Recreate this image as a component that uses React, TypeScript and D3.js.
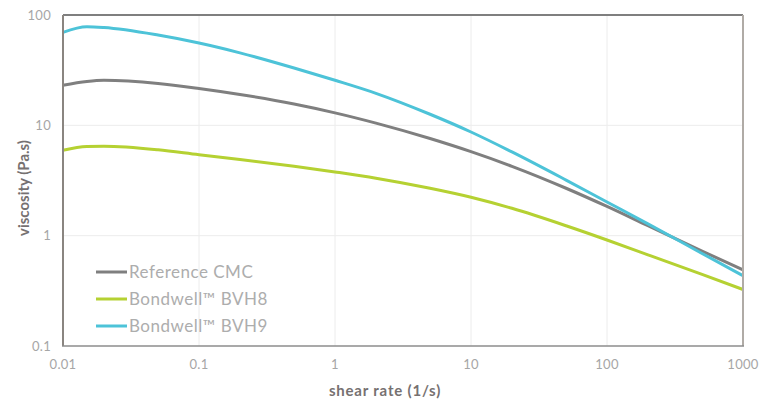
import { useEffect, useRef } from "react";
import * as d3 from "d3";

const shearRates = [0.01, 0.015, 0.02, 0.05, 0.1, 0.2, 0.5, 1, 2, 5, 10, 20, 50, 100, 200, 500, 1000];
const referenceCMC = [23.1, 25, 25.6, 24.0, 21.6, 19.05, 15.6, 12.97, 10.47, 7.59, 5.77, 4.25, 2.69, 1.84, 1.23, 0.725, 0.49];
const bvh8 = [5.94, 6.43, 6.46, 6.0, 5.41, 4.91, 4.26, 3.78, 3.32, 2.69, 2.23, 1.77, 1.23, 0.914, 0.671, 0.445, 0.325];
const bvh9 = [69.7, 78.3, 77, 65.8, 55.7, 45.4, 33.1, 25.6, 19.5, 12.6, 8.7, 5.74, 3.19, 2.02, 1.28, 0.69, 0.434];

const seriesNames = ["Reference CMC", "Bondwell™ BVH8", "Bondwell™ BVH9"];
const seriesColors = ["#7f7f7f", "#b5d132", "#4dc3d8"];
const xTicks = [0.01, 0.1, 1, 10, 100, 1000];
const yTicks = [0.1, 1, 10, 100];

export default function App() {
  const ref = useRef<SVGSVGElement | null>(null);

  useEffect(() => {
    if (!ref.current) return;
    const svg = d3.select(ref.current);
    svg.selectAll("*").remove();

    const width = 760;
    const height = 401;
    const margin = { top: 15, right: 17, bottom: 55, left: 63 };
    const font = "'Lato', 'Open Sans', sans-serif";

    svg.attr("width", width).attr("height", height);

    const x = d3.scaleLog()
      .domain([0.01, 1000])
      .range([margin.left, width - margin.right]);
    const y = d3.scaleLog()
      .domain([0.1, 100])
      .range([height - margin.bottom, margin.top]);

    const x0 = margin.left, x1 = width - margin.right;
    const y0 = margin.top, y1 = height - margin.bottom;

    // Grid
    const grid = svg.append("g");
    grid.selectAll("line.gx")
      .data(xTicks.slice(1, -1))
      .enter()
      .append("line")
      .attr("x1", d => x(d)).attr("x2", d => x(d))
      .attr("y1", y0).attr("y2", y1)
      .attr("stroke", "#ececec").attr("stroke-width", 1);
    grid.selectAll("line.gy")
      .data(yTicks.slice(1, -1))
      .enter()
      .append("line")
      .attr("x1", x0).attr("x2", x1)
      .attr("y1", d => y(d)).attr("y2", d => y(d))
      .attr("stroke", "#ececec").attr("stroke-width", 1);

    // Series
    const allSeries = [referenceCMC, bvh8, bvh9];
    const line = d3.line<number>()
      .x((_, i) => x(shearRates[i]))
      .y(d => y(d))
      .curve(d3.curveMonotoneX);

    allSeries.forEach((vals, i) => {
      svg.append("path")
        .datum(vals)
        .attr("d", line)
        .attr("fill", "none")
        .attr("stroke", seriesColors[i])
        .attr("stroke-width", 3);
    });

    // Frame
    svg.append("line").attr("x1", x0).attr("x2", x1).attr("y1", y0).attr("y2", y0)
      .attr("stroke", "#7f7f7f").attr("stroke-width", 2);
    svg.append("line").attr("x1", x0).attr("x2", x0).attr("y1", y0).attr("y2", y1)
      .attr("stroke", "#8a8580").attr("stroke-width", 2);
    svg.append("line").attr("x1", x1).attr("x2", x1).attr("y1", y0).attr("y2", y1)
      .attr("stroke", "#b0aba6").attr("stroke-width", 2);
    svg.append("line").attr("x1", x0 - 1).attr("x2", x1 + 1).attr("y1", y1).attr("y2", y1)
      .attr("stroke", "#8c8c8c").attr("stroke-width", 1.5);

    // Tick labels
    svg.selectAll("text.xt")
      .data(xTicks)
      .enter()
      .append("text")
      .attr("x", d => x(d))
      .attr("y", y1 + 23)
      .attr("text-anchor", "middle")
      .attr("fill", "#a6a6a6")
      .attr("font-family", font)
      .attr("font-size", "13px")
      .attr("letter-spacing", "0.3px")
      .text(d => String(d));

    svg.selectAll("text.yt")
      .data(yTicks)
      .enter()
      .append("text")
      .attr("x", 51)
      .attr("y", d => y(d) + 4.5)
      .attr("text-anchor", "end")
      .attr("fill", "#a6a6a6")
      .attr("font-family", font)
      .attr("font-size", "13px")
      .attr("letter-spacing", "0.3px")
      .text(d => String(d));

    // Axis titles
    svg.append("text")
      .attr("x", 385)
      .attr("y", 396)
      .attr("text-anchor", "middle")
      .attr("fill", "#767171")
      .attr("font-family", font)
      .attr("font-weight", "bold")
      .attr("font-size", "15px")
      .attr("letter-spacing", "0.8px")
      .text("shear rate (1/s)");

    svg.append("text")
      .attr("transform", "rotate(-90)")
      .attr("x", -188)
      .attr("y", 29)
      .attr("text-anchor", "middle")
      .attr("fill", "#767171")
      .attr("font-family", font)
      .attr("font-weight", "bold")
      .attr("font-size", "15px")
      .text("viscosity (Pa.s)");

    // Legend
    const legend = svg.append("g");
    seriesNames.forEach((name, i) => {
      const ly = 272 + i * 27;
      legend.append("line")
        .attr("x1", 96).attr("x2", 127)
        .attr("y1", ly).attr("y2", ly)
        .attr("stroke", seriesColors[i])
        .attr("stroke-width", 3);
      legend.append("text")
        .attr("x", 129)
        .attr("y", ly + 6)
        .attr("fill", "#adadad")
        .attr("font-family", font)
        .attr("font-size", "17px")
        .attr("letter-spacing", "0.5px")
        .text(name);
    });
  }, []);

  return (
    <div style={{ position: "absolute", left: 0, top: 0, width: 760, height: 401, background: "#fff" }}>
      <svg ref={ref} style={{ display: "block" }} />
    </div>
  );
}
